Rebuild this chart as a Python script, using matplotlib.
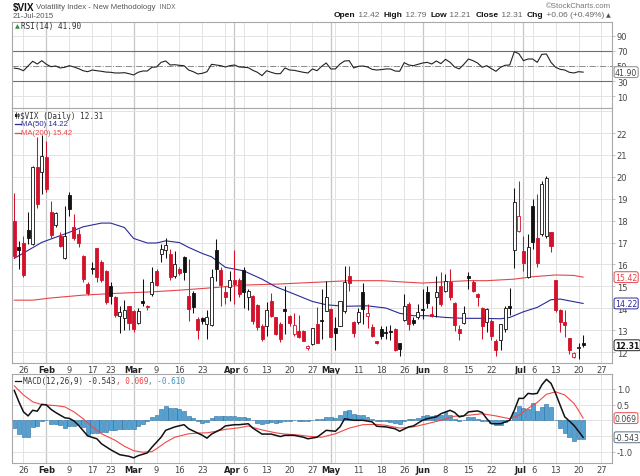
#!/usr/bin/env python3
"""Recreate the StockCharts $VIX daily chart (RSI / candles / MACD) for 21-Jul-2015."""

import numpy as np
import pandas as pd
import matplotlib

matplotlib.use("Agg")
import matplotlib.pyplot as plt
from matplotlib.lines import Line2D
from matplotlib.patches import Rectangle
from matplotlib.transforms import ScaledTranslation

# ---- values ----------------------------------------------------------------
FIRST_DAY = "2015-01-22"
LAST_AXIS_DAY = "2015-07-31"
HOLIDAYS = ["2015-02-16", "2015-04-03", "2015-05-25", "2015-07-03"]

PRIOR_CLOSE = 18.85  # close before the first candle (first candle is red)

OPENS = [
    17.97, 16.78, 16.98, 17.58, 16.93, 20.43, 20.21, 20.89, 18.41, 17.80,
    17.31, 16.28, 19.17, 17.72, 17.39, 16.40, 15.10, 15.85, 16.73, 16.13,
    15.71, 15.03, 14.50, 13.63, 13.54, 14.09, 13.89, 13.32, 14.33, 14.10,
    14.65, 15.71, 16.47, 16.67, 16.47, 15.48, 15.79, 16.32, 14.57, 14.69,
    13.51, 13.54, 13.28, 13.23, 16.67, 15.76, 14.75, 14.98, 15.30, 15.30,
    15.76, 14.53, 14.57, 14.15, 13.20, 13.17, 14.34, 13.58, 13.28, 13.96,
    13.66, 12.82, 12.97, 12.97, 12.18, 12.37, 13.28, 13.45, 13.89, 13.96,
    13.10, 13.20, 13.89, 15.46, 13.36, 13.36, 14.73, 13.64, 13.16, 12.49,
    13.05, 12.93, 12.95, 13.05, 12.40, 13.46, 14.19, 13.46, 13.58, 13.96,
    14.73, 13.74, 14.53, 15.03, 14.80, 15.18, 14.24, 13.04, 13.31, 15.48,
    15.18, 14.65, 14.01, 13.38, 13.43, 12.52, 12.57, 13.05, 14.11, 16.67,
    17.54, 16.63, 15.41, 18.65, 17.19, 17.39, 17.31, 17.47, 15.29, 13.93,
    13.35, 12.63, 11.76, 12.20, 12.42,
]
HIGHS = [
    19.25, 17.08, 17.31, 18.41, 20.50, 21.80, 21.90, 21.65, 18.91, 18.40,
    17.50, 18.68, 19.29, 18.30, 17.60, 16.45, 15.20, 16.10, 16.75, 16.20,
    15.75, 15.20, 14.55, 14.11, 14.40, 14.10, 13.90, 14.00, 15.33, 14.15,
    15.88, 15.80, 16.95, 17.20, 16.70, 16.60, 15.90, 16.40, 16.25, 14.80,
    13.60, 13.60, 13.90, 15.80, 17.16, 15.90, 15.00, 15.71, 16.67, 15.40,
    15.90, 14.90, 14.60, 14.20, 13.30, 14.30, 14.70, 13.60, 13.35, 15.03,
    13.70, 13.77, 13.70, 13.00, 12.30, 13.10, 14.07, 14.90, 15.26, 14.00,
    13.58, 14.31, 15.94, 15.94, 13.40, 14.00, 15.14, 14.20, 13.30, 12.50,
    13.20, 13.20, 13.25, 13.10, 12.40, 14.65, 14.30, 13.60, 14.20, 14.88,
    15.00, 14.10, 15.48, 15.64, 15.55, 15.80, 14.30, 13.25, 14.10, 15.64,
    15.30, 14.70, 14.05, 14.00, 13.50, 12.60, 13.30, 14.10, 14.91, 19.47,
    19.82, 17.28, 17.40, 18.99, 19.21, 19.80, 20.05, 17.50, 15.30, 13.95,
    13.90, 12.66, 12.00, 12.40, 12.79,
]
LOWS = [
    16.30, 15.80, 15.45, 16.93, 16.90, 18.60, 19.20, 19.29, 17.20, 17.70,
    16.80, 16.25, 18.22, 17.10, 16.80, 15.20, 14.60, 15.56, 15.20, 15.20,
    14.20, 14.20, 13.60, 12.87, 13.00, 13.00, 12.90, 13.30, 14.10, 13.90,
    14.55, 15.00, 16.10, 16.30, 15.30, 15.40, 15.50, 15.30, 13.43, 13.80,
    12.59, 13.30, 12.60, 13.20, 15.26, 14.11, 14.20, 14.34, 14.19, 14.50,
    14.00, 13.90, 13.30, 13.00, 12.50, 12.75, 13.60, 12.80, 12.44, 12.82,
    13.20, 12.75, 12.65, 12.50, 12.10, 12.30, 12.40, 12.59, 13.89, 12.70,
    12.09, 13.20, 13.80, 14.80, 12.67, 13.30, 13.28, 13.10, 12.70, 12.35,
    12.60, 12.60, 12.55, 12.05, 11.83, 13.40, 13.00, 13.25, 13.50, 13.50,
    14.00, 13.60, 13.60, 14.10, 14.75, 14.40, 12.98, 12.55, 13.30, 14.88,
    14.75, 14.10, 12.60, 12.90, 12.55, 11.83, 12.10, 12.90, 13.70, 15.82,
    17.50, 15.70, 15.40, 16.70, 15.90, 17.30, 17.20, 16.55, 13.85, 12.90,
    12.70, 11.90, 11.75, 11.70, 12.21,
]
CLOSES = [
    16.40, 16.66, 15.52, 17.22, 20.44, 18.76, 20.97, 19.43, 17.33, 18.33,
    16.85, 17.29, 18.55, 17.23, 16.96, 15.34, 14.69, 15.80, 15.45, 15.29,
    14.30, 14.56, 13.69, 13.84, 13.91, 13.34, 13.04, 13.86, 14.23, 14.04,
    15.20, 15.06, 16.69, 16.87, 15.42, 16.00, 15.61, 15.66, 13.97, 14.07,
    13.02, 13.41, 13.62, 15.44, 15.80, 15.07, 14.51, 15.29, 15.11, 14.67,
    14.74, 14.78, 13.43, 13.16, 12.59, 13.93, 13.66, 12.82, 12.59, 13.89,
    13.32, 13.25, 12.67, 12.52, 12.26, 13.10, 12.41, 13.40, 14.53, 12.71,
    12.85, 14.31, 15.20, 15.14, 12.85, 13.85, 13.95, 13.77, 12.72, 12.40,
    12.74, 12.88, 12.90, 12.10, 12.14, 14.11, 13.28, 13.32, 13.81, 13.92,
    14.22, 13.64, 14.73, 14.21, 15.26, 14.50, 13.22, 12.85, 13.78, 15.39,
    14.81, 14.50, 13.19, 13.96, 12.74, 12.11, 13.26, 14.01, 14.02, 18.85,
    18.23, 16.09, 16.79, 17.01, 16.09, 19.66, 19.97, 16.83, 13.90, 13.37,
    13.23, 12.11, 11.95, 12.25, 12.31,
]

MA50_DAY = [0, 6, 12, 15, 19, 21, 24, 26, 29, 31, 33, 36, 38, 41, 43, 46, 50, 54, 57, 61,
            65, 68, 72, 77, 81, 84, 87, 90, 94, 98, 102, 106, 108, 111, 114, 117, 119, 121, 124]
MA50_VAL = [16.28, 17.01, 17.47, 17.72, 17.89, 17.89, 17.69, 17.19, 16.98, 16.98, 17.08, 17.00,
            16.78, 16.50, 16.35, 15.87, 15.71, 15.33, 14.98, 14.65, 14.31, 14.16, 14.09, 14.11,
            14.01, 13.77, 13.66, 13.66, 13.58, 13.54, 13.54, 13.52, 13.58, 13.84, 14.04, 14.39,
            14.42, 14.34, 14.22]

MA200_DAY = [0, 4, 8, 15, 22, 30, 37, 44, 50, 57, 65, 73, 80, 84, 89, 94, 99, 103, 109, 113,
             118, 122, 124]
MA200_VAL = [14.37, 14.37, 14.47, 14.60, 14.68, 14.75, 14.84, 14.95, 15.06, 15.10, 15.18, 15.26,
             15.26, 15.21, 15.15, 15.21, 15.26, 15.26, 15.33, 15.44, 15.52, 15.50, 15.42]

RSI = [
    47.2, 46.3, 43.8, 50.0, 56.2, 52.6, 57.0, 52.2, 49.1, 50.0,
    47.4, 48.3, 50.4, 48.7, 46.5, 43.8, 42.5, 44.7, 43.8, 43.0,
    42.0, 41.7, 40.8, 40.8, 41.2, 39.9, 38.2, 41.7, 43.4, 43.4,
    48.3, 48.7, 54.8, 56.6, 51.3, 51.7, 50.9, 50.4, 44.7, 42.5,
    39.5, 40.4, 42.5, 52.2, 51.3, 50.4, 48.7, 50.4, 51.3, 48.7,
    48.3, 47.8, 44.3, 41.7, 37.3, 43.8, 41.7, 39.9, 39.9, 47.4,
    44.7, 44.3, 43.0, 41.7, 40.8, 46.1, 43.8, 49.6, 54.0, 46.1,
    46.1, 52.6, 56.6, 57.0, 47.4, 49.6, 50.0, 48.7, 45.6, 44.7,
    45.2, 46.1, 46.1, 43.4, 43.0, 54.4, 51.3, 50.4, 52.2, 53.9,
    54.8, 52.6, 56.6, 53.1, 58.8, 54.8, 48.7, 46.1, 52.2, 59.2,
    57.0, 53.9, 48.3, 50.4, 46.5, 43.0, 48.3, 50.9, 51.3, 68.8,
    66.2, 57.0, 59.2, 59.2, 54.8, 65.3, 65.8, 54.8, 48.3, 45.6,
    44.7, 41.7, 40.8, 42.5, 41.9,
]

MACD_DAY = [0, 1, 2, 3, 4, 5, 6, 7, 8, 9, 11, 12, 13, 14, 16, 18, 19, 21, 23, 25,
            26, 27, 29, 30, 32, 33, 35, 37, 38, 40, 41, 42, 43, 45, 46, 48, 49, 51, 52, 54,
            56, 58, 59, 61, 63, 64, 66, 68, 70, 71, 72, 74, 76, 78, 79, 81, 83, 84, 86, 87,
            89, 90, 92, 93, 95, 96, 97, 98, 99, 101, 102, 103, 104, 106, 108, 109, 110, 111,
            112, 113, 114, 115, 116, 117, 118, 119, 120, 122, 123, 124]
MACD_VAL = [0.95, 0.59, 0.27, 0.14, 0.32, 0.29, 0.51, 0.49, 0.35, 0.25,
            0.08, 0.06, -0.02, -0.16, -0.50, -0.59, -0.75, -0.94, -1.10, -1.15,
            -1.20, -1.13, -1.04, -0.86, -0.54, -0.32, -0.21, -0.14, -0.27, -0.41,
            -0.48, -0.57, -0.44, -0.29, -0.18, -0.14, -0.14, -0.11, -0.25, -0.44,
            -0.44, -0.52, -0.48, -0.48, -0.54, -0.59, -0.54, -0.32, -0.35, -0.21,
            0.05, 0.00, 0.00, -0.05, -0.19, -0.21, -0.27, -0.35, -0.21, -0.18,
            0.00, 0.05, 0.11, 0.21, 0.32, 0.25, 0.11, 0.14, 0.27, 0.30,
            0.25, 0.05, -0.11, -0.11, 0.00, 0.32, 0.70, 0.70, 0.86, 0.84,
            0.86, 1.13, 1.31, 1.18, 0.86, 0.48, 0.11, -0.16, -0.35, -0.543]

SIGNAL_DAY = [0, 2, 4, 6, 9, 11, 13, 15, 17, 19, 22, 24, 26, 28, 30, 31, 33, 35, 38, 40,
              42, 44, 46, 49, 51, 53, 55, 57, 59, 62, 64, 67, 70, 73, 76, 79, 81, 84, 87, 90,
              93, 96, 99, 102, 105, 108, 110, 112, 114, 116, 118, 120, 122, 123, 124]
SIGNAL_VAL = [1.10, 0.81, 0.59, 0.50, 0.47, 0.43, 0.27, 0.05, -0.21, -0.43,
              -0.64, -0.83, -0.97, -1.02, -1.00, -0.91, -0.70, -0.54, -0.43, -0.41,
              -0.40, -0.35, -0.29, -0.24, -0.18, -0.27, -0.34, -0.40, -0.44, -0.47,
              -0.51, -0.54, -0.43, -0.25, -0.14, -0.13, -0.16, -0.25, -0.21, -0.11,
              0.00, 0.13, 0.16, 0.21, 0.14, 0.05, 0.16, 0.38, 0.57, 0.83,
              0.91, 0.81, 0.54, 0.32, 0.069]

HISTOGRAM = [
    -0.25, -0.43, -0.54, -0.52, -0.21, -0.18, -0.01, 0.02, -0.11, -0.11,
    -0.14, -0.25, -0.18, -0.18, -0.14, -0.21, -0.48, -0.40, -0.40, -0.38,
    -0.38, -0.32, -0.32, -0.29, -0.29, -0.29, -0.27, -0.18, -0.11, -0.03,
    0.09, 0.16, 0.37, 0.45, 0.39, 0.39, 0.35, 0.29, 0.14, 0.08,
    -0.03, -0.08, -0.05, 0.08, 0.14, 0.14, 0.14, 0.14, 0.14, 0.11,
    0.11, 0.08, 0.00, -0.09, -0.13, -0.09, -0.05, -0.08, -0.05, -0.03,
    -0.03, 0.00, -0.03, -0.02, -0.03, 0.00, 0.03, 0.05, 0.11, 0.11,
    0.08, 0.18, 0.29, 0.32, 0.21, 0.18, 0.16, 0.11, 0.05, -0.03,
    -0.03, -0.03, -0.05, -0.08, -0.11, -0.03, 0.03, 0.03, 0.08, 0.14,
    0.18, 0.14, 0.16, 0.18, 0.25, 0.18, 0.05, -0.03, 0.00, 0.10,
    0.11, 0.05, -0.01, -0.03, -0.09, -0.16, -0.14, -0.05, 0.02, 0.27,
    0.45, 0.39, 0.35, 0.54, 0.29, 0.43, 0.51, 0.43, 0.00, -0.25,
    -0.40, -0.54, -0.65, -0.59, -0.61,
]

TICK_DATES = ["2015-01-26", "2015-02-02", "2015-02-09", "2015-02-17", "2015-02-23",
              "2015-03-02", "2015-03-09", "2015-03-16", "2015-03-23", "2015-04-01",
              "2015-04-06", "2015-04-13", "2015-04-20", "2015-04-27", "2015-05-01",
              "2015-05-11", "2015-05-18", "2015-05-26", "2015-06-01", "2015-06-08",
              "2015-06-15", "2015-06-22", "2015-07-01", "2015-07-06", "2015-07-13",
              "2015-07-20", "2015-07-27"]
TICK_TEXT = ["26", "Feb", "9", "17", "23", "Mar", "9", "16", "23", "Apr", "6", "13", "20",
             "27", "May", "11", "18", "26", "Jun", "8", "15", "22", "Jul", "6", "13", "20", "27"]

# ---- styling ----------------------------------------------------------------
W, H = 640, 477
LEFT_PX, RIGHT_PX = 12.3, 612.0
RED = "#d3112b"
BLACK = "#111111"
MA50_COLOR = "#2b2b98"
MA200_COLOR = "#e2474b"
GRID = "#e3e3e3"
MONTH_GRID = "#c6c6c6"
SPINE = "#a8a8a8"
TEXT = "#454545"
HIST_FACE = "#54a2d4"
HIST_EDGE = "#2c6d9c"
SANS = "DejaVu Sans"
ARIAL = "Liberation Sans"
MONO = "DejaVu Sans Mono"

plt.rcParams["font.family"] = [SANS]


def fx(px):
    return px / W


def fy(py):
    return 1 - py / H


days = pd.bdate_range(FIRST_DAY, LAST_AXIS_DAY).drop(pd.to_datetime(HOLIDAYS))
day_pos = {d.strftime("%Y-%m-%d"): i for i, d in enumerate(days)}
positions = np.arange(len(days))
iso = days.isocalendar()
week_first = pd.Series(positions).groupby([iso.year.values, iso.week.values]).min().values
month_first = pd.Series(positions).groupby([days.year, days.month]).min().values
week_grid = [p for p in week_first if p > 0]
month_grid = [p for p in month_first if p > 0]
tick_pos = [day_pos[d] for d in TICK_DATES]

X_MIN, X_MAX = -0.44, 130.3

fig = plt.figure(figsize=(W / 100, H / 100), dpi=100)
renderer = fig.canvas.get_renderer()


def panel(top_px, bottom_px):
    ax = fig.add_axes([fx(LEFT_PX), fy(bottom_px), (RIGHT_PX - LEFT_PX) / W, (bottom_px - top_px) / H])
    ax.set_xlim(X_MIN, X_MAX)
    for spine in ax.spines.values():
        spine.set_color(SPINE)
        spine.set_linewidth(0.8)
    for p in week_grid:
        ax.axvline(p, color=GRID, lw=0.7, zorder=0)
    for p in month_grid:
        ax.axvline(p, color=MONTH_GRID, lw=0.9, zorder=0)
    ax.tick_params(axis="y", left=False, labelleft=False, right=True, labelright=True,
                   length=2, width=0.5, color=SPINE, pad=1.5, labelsize=6, labelcolor=TEXT)
    return ax


def set_date_labels(ax):
    ax.set_xticks(tick_pos)
    ax.set_xticklabels(TICK_TEXT)
    ax.tick_params(axis="x", length=0, pad=1.8, labelsize=6, labelcolor=TEXT)
    labels = ax.get_xticklabels()
    for i, label in enumerate(labels):
        if label.get_text().isalpha():
            label.set_fontweight("bold")
            label.set_color("#222222")
            # a week label right after the month start: pull the pair apart a little
            if i + 1 < len(tick_pos) and tick_pos[i + 1] - tick_pos[i] <= 2:
                label.set_transform(label.get_transform()
                                    + ScaledTranslation(-0.025, 0, fig.dpi_scale_trans))
                labels[i + 1].set_transform(labels[i + 1].get_transform()
                                            + ScaledTranslation(0.01, 0, fig.dpi_scale_trans))


def tag(ax, value, text, edge, color=TEXT, weight="normal"):
    ax.text(1.005, value, text, transform=ax.get_yaxis_transform(), ha="left", va="center",
            fontsize=5.6, color=color, fontweight=weight, zorder=10, clip_on=False,
            bbox=dict(boxstyle="round,pad=0.12,rounding_size=0.25", fc="white", ec=edge, lw=0.7))


def text_run(x_px, y_px, pieces, align="left"):
    cur = x_px
    for s, kw in (pieces if align == "left" else pieces[::-1]):
        t = fig.text(fx(cur), fy(y_px), s, ha=align, va="center", **kw)
        width = t.get_window_extent(renderer).width
        cur = cur + width if align == "left" else cur - width


# ---- RSI panel --------------------------------------------------------------
ax_rsi = panel(22.7, 108.7)
ax_rsi.set_ylim(-4.9, 108.3)
ax_rsi.set_yticks([10, 30, 50, 70, 90])
ax_rsi.set_xticks([])
for level in (10, 90):
    ax_rsi.axhline(level, color=GRID, lw=0.7, zorder=0)
for level in (30, 70):
    ax_rsi.axhline(level, color="#6f6f6f", lw=0.8, zorder=1)
ax_rsi.axhline(50, color="#8a8a8a", lw=0.7, ls="-.", zorder=1)
ax_rsi.plot(positions[:len(RSI)], RSI, color="#222222", lw=0.8, zorder=3)
tag(ax_rsi, RSI[-1], f"{RSI[-1]:.2f}", "#8a8a8a")

# ---- price panel ------------------------------------------------------------
ax = panel(108.7, 364.0)
ax.set_ylim(11.50, 23.16)
ax.set_yticks(range(12, 23))
for level in range(12, 24):
    ax.axhline(level, color=GRID, lw=0.7, zorder=0)

opens = np.array(OPENS)
highs = np.array(HIGHS)
lows = np.array(LOWS)
closes = np.array(CLOSES)
x = positions[:len(closes)]
prev = np.concatenate([[PRIOR_CLOSE], closes[:-1]])
edge = np.where(closes < prev, RED, BLACK)
face = np.where(closes >= opens, "white", edge)
ax.vlines(x, lows, highs, colors=edge, lw=0.75, zorder=3)
ax.bar(x, np.maximum(np.abs(closes - opens), 0.03), bottom=np.minimum(opens, closes),
       width=0.66, color=face, edgecolor=edge, linewidth=0.6, zorder=4)

ax.plot(MA200_DAY, MA200_VAL, color=MA200_COLOR, lw=0.8, zorder=2)
ax.plot(MA50_DAY, MA50_VAL, color=MA50_COLOR, lw=0.8, zorder=2)
set_date_labels(ax)

tag(ax, MA200_VAL[-1], f"{MA200_VAL[-1]:.2f}", MA200_COLOR, color=MA200_COLOR)
tag(ax, MA50_VAL[-1], f"{MA50_VAL[-1]:.2f}", MA50_COLOR, color=MA50_COLOR)
tag(ax, CLOSES[-1], f"{CLOSES[-1]:.2f}", "#222222", color="#111111", weight="bold")

# ---- MACD panel -------------------------------------------------------------
ax_m = panel(375.0, 464.0)
ax_m.set_ylim(-1.364, 1.479)
ax_m.set_yticks([1.0, 0.5, -1.0])
ax_m.set_yticklabels(["1.0", "0.5", "-1.0"])
for level in (1.0, 0.5, 0.0, -0.5, -1.0):
    ax_m.axhline(level, color=GRID, lw=0.7, zorder=0)
ax_m.bar(positions[:len(HISTOGRAM)], HISTOGRAM, width=0.86, color=HIST_FACE,
         edgecolor=HIST_EDGE, linewidth=0.4, zorder=2)
ax_m.plot(SIGNAL_DAY, SIGNAL_VAL, color="#f04848", lw=0.8, zorder=3)
ax_m.plot(MACD_DAY, MACD_VAL, color="#111111", lw=1.1, zorder=4)
set_date_labels(ax_m)
tag(ax_m, SIGNAL_VAL[-1], f"{SIGNAL_VAL[-1]:.3f}", "#f04848")
tag(ax_m, MACD_VAL[-1], f"{MACD_VAL[-1]:.3f}", "#5d6f86")

# ---- header -----------------------------------------------------------------
text_run(12.5, 7.6, [
    ("$VIX", dict(fontsize=7.2, fontweight="bold", color="#111111", family=ARIAL)),
    (" Volatility Index - New Methodology", dict(fontsize=5.6, color="#555555", family=ARIAL)),
    ("  INDX", dict(fontsize=4.8, color="#666666", family=ARIAL)),
])
fig.text(fx(12.5), fy(16.8), "21-Jul-2015", fontsize=5.6, color="#555555", family=ARIAL,
         ha="left", va="center")
fig.text(fx(611), fy(6.8), "\u00a9StockCharts.com", fontsize=5.6, color="#777777",
         family=ARIAL, ha="right", va="center")
bold = dict(fontsize=6, fontweight="bold", color="#111111", family=ARIAL)
plain = dict(fontsize=6, color="#666666", family=ARIAL)
text_run(611, 15.8, [
    ("Open", bold), (" 12.42  ", plain), ("High", bold), (" 12.79  ", plain),
    ("Low", bold), (" 12.21  ", plain), ("Close", bold), (" 12.31  ", plain),
    ("Chg", bold), (" +0.06 (+0.49%) ", plain),
    ("\u25b2", dict(fontsize=4.5, color="#555555", family=SANS)),
], align="right")

# ---- panel legends ----------------------------------------------------------
mono = dict(fontsize=5.5, family=MONO, color="#333333")
fig.text(fx(15.2), fy(26.6), "\u25b2", fontsize=4.6, color="#2f8f3a", ha="left", va="center")
fig.text(fx(20.6), fy(26.6), f"RSI(14) {RSI[-1]:.2f}", ha="left", va="center", **mono)

fig.add_artist(Line2D([fx(16.0), fx(16.0)], [fy(113.3), fy(119.3)], color="#222222", lw=0.5))
fig.add_artist(Rectangle((fx(15.2), fy(118.0)), 1.6 / W, 3.5 / H, fc="#222222", ec="none"))
fig.add_artist(Line2D([fx(18.2), fx(18.2)], [fy(114.0), fy(119.0)], color="#222222", lw=0.5))
fig.add_artist(Rectangle((fx(17.4), fy(117.4)), 1.6 / W, 2.4 / H, fc="white", ec="#222222", lw=0.4))
fig.text(fx(20.0), fy(116.3), f"$VIX (Daily) {CLOSES[-1]:.2f}", ha="left", va="center", **mono)
for y_px, label, value, color in ((124.7, "MA(50)", MA50_VAL[-1], MA50_COLOR),
                                  (133.7, "MA(200)", MA200_VAL[-1], MA200_COLOR)):
    fig.add_artist(Line2D([fx(14.6), fx(20.6)], [fy(y_px), fy(y_px)], color=color, lw=0.9))
    fig.text(fx(21.4), fy(y_px), f"{label} {value:.2f}", ha="left", va="center",
             fontsize=5.6, family=ARIAL, color=color)

fig.add_artist(Line2D([fx(14.6), fx(21.0)], [fy(381.6), fy(381.6)], color="#111111", lw=0.9))
text_run(23.0, 381.6, [
    (f"MACD(12,26,9) {MACD_VAL[-1]:.3f}", mono),
    (f", {SIGNAL_VAL[-1]:.3f}", dict(mono, color="#ee4040")),
    (f", {HISTOGRAM[-1]:.3f}", dict(mono, color="#3d8fc6")),
])

fig.savefig("out.png", dpi=100)
